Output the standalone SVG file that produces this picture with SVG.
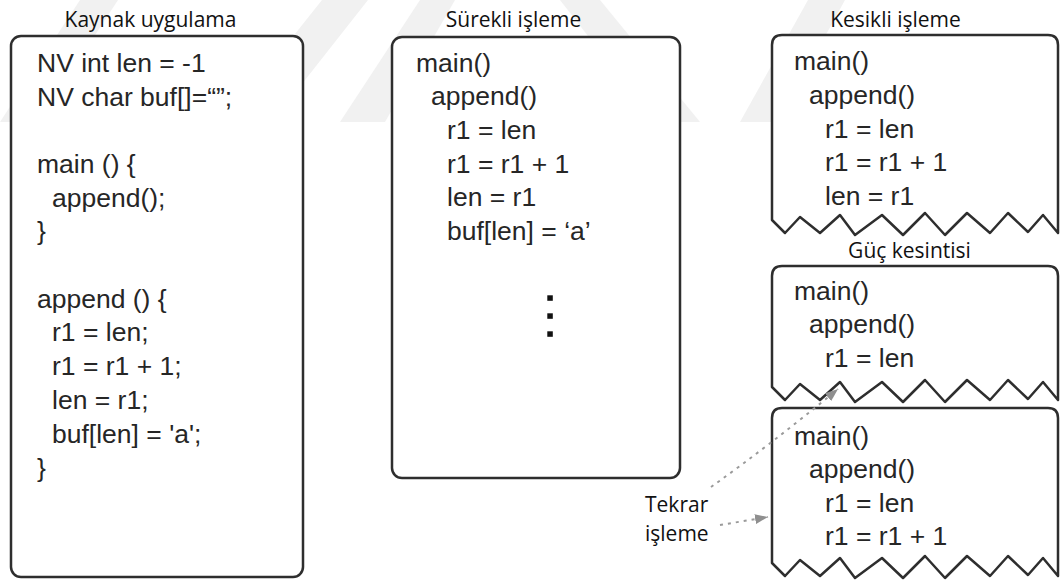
<svg xmlns="http://www.w3.org/2000/svg" width="1061" height="581" viewBox="0 0 1061 581">
  <style>
    .bg { fill: #ffffff; }
    .wm { fill: #f1f1f1; }
    .box { fill: #ffffff; stroke: #2e2e2e; stroke-width: 2.5; stroke-linejoin: round; }
    .code { font-family: "Liberation Sans", Arial, sans-serif; font-size: 26.5px; fill: #262626; }
    .title { font-family: "Open Sans", "Noto Sans", sans-serif; font-size: 21px; fill: #111111; }
    .mid { text-anchor: middle; }
    .dash { fill: none; stroke: #9a9a9a; stroke-width: 2; stroke-dasharray: 3 5; }
    .dot { fill: #111111; }
  </style>
  <defs>
    <marker id="grayHead" markerUnits="userSpaceOnUse" markerWidth="14" markerHeight="10" refX="13" refY="5" orient="auto">
      <path d="M0,0 L13,5 L0,10 Z" fill="#8f8f8f"/>
    </marker>
  </defs>

  <rect class="bg" x="0" y="0" width="1061" height="581"/>

  <!-- faint background stripes -->
  <g id="backdrop">
    <polygon class="wm" points="0,122 38,122 118,0 80,0"/>
    <polygon class="wm" points="225,122 272,122 368,0 322,0"/>
    <polygon class="wm" points="340,122 385,122 455,0 420,0 "/>
    <polygon class="wm" points="560,0 600,0 700,122 655,122"/>
    <polygon class="wm" points="740,122 778,122 845,0 808,0"/>
  </g>

  <!-- source program -->
  <g id="source">
    <text class="title mid" x="150.5" y="27">Kaynak uygulama</text>
    <rect class="box" x="11" y="36" width="292" height="541" rx="10"/>
    <text class="code" x="37" y="72">NV int len = -1</text>
    <text class="code" x="37" y="106">NV char buf[]=“”;</text>
    <text class="code" x="37" y="173">main () {</text>
    <text class="code" x="52" y="207">append();</text>
    <text class="code" x="37" y="240">}</text>
    <text class="code" x="37" y="308">append () {</text>
    <text class="code" x="52" y="341">r1 = len;</text>
    <text class="code" x="52" y="375">r1 = r1 + 1;</text>
    <text class="code" x="52" y="409">len = r1;</text>
    <text class="code" x="52" y="443">buf[len] = 'a';</text>
    <text class="code" x="37" y="477">}</text>
  </g>

  <!-- continuous execution -->
  <g id="continuous">
    <text class="title mid" x="513.5" y="27">Sürekli işleme</text>
    <rect class="box" x="392" y="37" width="288" height="441" rx="10"/>
    <text class="code" x="416" y="72">main()</text>
    <text class="code" x="431" y="105">append()</text>
    <text class="code" x="447" y="139">r1 = len</text>
    <text class="code" x="447" y="173">r1 = r1 + 1</text>
    <text class="code" x="447" y="206">len = r1</text>
    <text class="code" x="447" y="240">buf[len] = ‘a’</text>
    <rect class="dot" x="547.3" y="295.3" width="5.5" height="5.5"/>
    <rect class="dot" x="547.3" y="313.3" width="5.5" height="5.5"/>
    <rect class="dot" x="547.3" y="331.3" width="5.5" height="5.5"/>
  </g>

  <!-- intermittent execution, first run -->
  <g id="intermittent">
    <text class="title mid" x="895.5" y="27">Kesikli işleme</text>
    <path class="box" d="M772,220 L785,233 L800,217 L820,233 L840,215 L855,235 L882,215 L903,235 L925,213 L945,235 L967,213 L990,233 L1008,213 L1028,232 L1043,215 L1058,233 V45 Q1058,35 1048,35 H782 Q772,35 772,45 Z"/>
    <text class="code" x="794" y="70">main()</text>
    <text class="code" x="809" y="104">append()</text>
    <text class="code" x="825" y="138">r1 = len</text>
    <text class="code" x="825" y="171">r1 = r1 + 1</text>
    <text class="code" x="825" y="205">len = r1</text>
  </g>

  <!-- after power loss -->
  <g id="powerLoss">
    <text class="title mid" x="909.5" y="258">Güç kesintisi</text>
    <path class="box" d="M772,387 L785,400 L800,384 L820,400 L840,382 L855,402 L882,382 L903,402 L925,380 L945,402 L967,380 L990,400 L1008,380 L1028,399 L1043,382 L1058,400 V276 Q1058,266 1048,266 H782 Q772,266 772,276 Z"/>
    <text class="code" x="794" y="300">main()</text>
    <text class="code" x="809" y="333">append()</text>
    <text class="code" x="825" y="367">r1 = len</text>
  </g>

  <!-- re-execution -->
  <g id="reExecution">
    <path class="box" d="M772,563 L785,576 L800,560 L820,576 L840,558 L855,578 L882,558 L903,578 L925,556 L945,578 L967,556 L990,576 L1008,556 L1028,575 L1043,558 L1058,576 V418 Q1058,408 1048,408 H782 Q772,408 772,418 Z"/>
    <text class="code" x="794" y="445">main()</text>
    <text class="code" x="809" y="478">append()</text>
    <text class="code" x="825" y="512">r1 = len</text>
    <text class="code" x="825" y="545">r1 = r1 + 1</text>
  </g>

  <g id="reLabel">
    <text class="title" x="645" y="512">Tekrar</text>
    <text class="title" x="645" y="541">işleme</text>
  </g>

  <!-- dashed pointers -->
  <g id="connectors">
    <path class="dash" d="M711,487 Q770,445 838,389" marker-end="url(#grayHead)"/>
    <path class="dash" d="M720,525 L768,517" marker-end="url(#grayHead)"/>
  </g>
</svg>
